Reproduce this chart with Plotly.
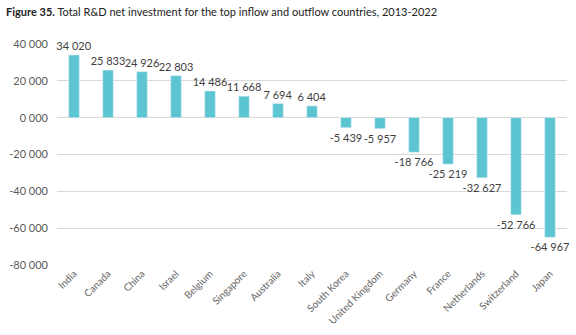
import plotly.graph_objects as go

countries = ["India", "Canada", "China", "Israel", "Belgium", "Singapore", "Australia", "Italy",
             "South Korea", "United Kingdom", "Germany", "France", "Netherlands", "Switzerland", "Japan"]
values = [34020, 25833, 24926, 22803, 14486, 11668, 7694, 6404,
          -5439, -5957, -18766, -25219, -32627, -52766, -64967]
tick_vals = [40000, 20000, 0, -20000, -40000, -60000, -80000]
tick_text = ["40 000", "20 000", "0 000", "-20 000", "-40 000", "-60 000", "-80 000"]


def fmt(v):
    s = f"{abs(v):,}".replace(",", " ")
    return ("-" if v < 0 else "") + s


labels = [fmt(v) for v in values]

fig = go.Figure(go.Bar(
    x=countries, y=values, text=labels, textposition="outside",
    textfont=dict(size=11, color="#404040", family="Lato"),
    constraintext="none",
    marker_color="#5BC5D2", width=0.31, cliponaxis=False,
    hoverinfo="skip",
))

fig.update_layout(
    width=576, height=335,
    margin=dict(l=57, r=9, t=44, b=68),
    paper_bgcolor="white", plot_bgcolor="white",
    showlegend=False,
    font=dict(family="Lato", color="#595959"),
    annotations=[dict(
        text="<b>Figure 35.</b> Total R&D net investment for the top inflow and outflow countries, 2013-2022",
        xref="paper", yref="paper", x=0, y=1, xanchor="left", yanchor="top",
        xshift=-53, yshift=41, showarrow=False,
        font=dict(size=11, color="#222222", family="Lato"),
    )],
)
fig.update_yaxes(range=[-80000, 40000], tickvals=tick_vals, ticktext=tick_text,
                 showgrid=True, gridcolor="#d9d9d9", gridwidth=1, zeroline=False,
                 tickfont=dict(size=11, color="#595959"), ticklabelstandoff=8,
                 showline=False)
fig.update_xaxes(tickangle=-45, tickfont=dict(size=10, color="#666666"), showline=False,
                 showgrid=False)

fig.write_html("out.html")
